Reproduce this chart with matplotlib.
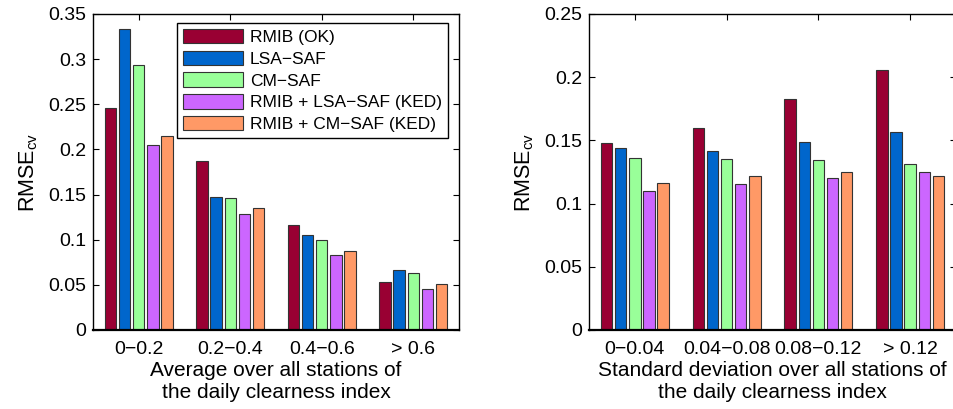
import matplotlib
matplotlib.use("Agg")
import matplotlib.pyplot as plt
import numpy as np

plt.rcParams['font.family'] = ['Liberation Sans', 'DejaVu Sans']
plt.rcParams['mathtext.fontset'] = 'custom'
plt.rcParams['mathtext.rm'] = 'Liberation Sans'
plt.rcParams['mathtext.it'] = 'Liberation Sans:italic'

series = ["RMIB (OK)", "LSA\u2212SAF", "CM\u2212SAF", "RMIB + LSA\u2212SAF (KED)", "RMIB + CM\u2212SAF (KED)"]
colors = ["#990033", "#0066CC", "#99FF99", "#CC66FF", "#FF9966"]

cats_left = ["0\u22120.2", "0.2\u22120.4", "0.4\u22120.6", "> 0.6"]
vals_left = [
    [0.2455, 0.1868, 0.116, 0.0528],
    [0.333, 0.147, 0.105, 0.066],
    [0.293, 0.146, 0.100, 0.0635],
    [0.2045, 0.129, 0.0827, 0.045],
    [0.2145, 0.135, 0.088, 0.0506],
]
cats_right = ["0\u22120.04", "0.04\u22120.08", "0.08\u22120.12", "> 0.12"]
vals_right = [
    [0.148, 0.1598, 0.183, 0.2054],
    [0.1443, 0.1416, 0.149, 0.157],
    [0.1358, 0.1355, 0.1348, 0.131],
    [0.1102, 0.1152, 0.1203, 0.1247],
    [0.116, 0.1216, 0.125, 0.1218],
]
yticks_left = [0, 0.05, 0.1, 0.15, 0.2, 0.25, 0.3, 0.35]
ytick_labels_left = ["0", "0.05", "0.1", "0.15", "0.2", "0.25", "0.3", "0.35"]
yticks_right = [0, 0.05, 0.1, 0.15, 0.2, 0.25]
ytick_labels_right = ["0", "0.05", "0.1", "0.15", "0.2", "0.25"]

fig = plt.figure(figsize=(9.54, 4.09), dpi=100)
W, H = 954, 409
ax1 = fig.add_axes([93 / W, 1 - 330 / H, 366 / W, 316 / H])
ax2 = fig.add_axes([589 / W, 1 - 330 / H, 367 / W, 316 / H])

pitch = 0.154
bw = 0.125

def draw(ax, cats, vals, ymax, yticks, ylabels, xlabel):
    x = np.arange(1, len(cats) + 1)
    n = len(vals)
    for i, v in enumerate(vals):
        off = (i - (n - 1) / 2) * pitch
        ax.bar(x + off, v, width=bw, color=colors[i], edgecolor="#333333",
               linewidth=0.8, label=series[i], zorder=2)
    ax.set_xlim(0.5, len(cats) + 0.5)
    ax.set_ylim(0, ymax)
    ax.set_xticks(x)
    ax.set_xticklabels(cats)
    ax.set_yticks(yticks)
    ax.set_yticklabels(ylabels)
    ax.tick_params(direction="in", top=True, right=True, labelsize=14,
                   length=4, width=0.8, pad=5)
    ax.tick_params(axis="x", pad=8)
    for s in ax.spines.values():
        s.set_linewidth(1.0)
    ax.spines['bottom'].set_linewidth(1.6)
    ax.set_ylabel("RMSE$_{\\mathrm{cv}}$", fontsize=15.5, labelpad=6)
    ax.set_xlabel(xlabel, fontsize=15, linespacing=1.2, labelpad=2)

draw(ax1, cats_left, vals_left, 0.35, yticks_left, ytick_labels_left,
     "Average over all stations of\nthe daily clearness index")
draw(ax2, cats_right, vals_right, 0.25, yticks_right, ytick_labels_right,
     "Standard deviation over all stations of\nthe daily clearness index")

leg = ax1.legend(loc="upper right", bbox_to_anchor=(0.970, 0.972), borderaxespad=0,
                 fontsize=12.5, fancybox=False, framealpha=1, edgecolor="black",
                 handlelength=3.45, handleheight=0.9, labelspacing=0.32,
                 handletextpad=0.4, borderpad=0.35)
leg.get_frame().set_linewidth(1.0)

fig.savefig("out.png", dpi=100)
